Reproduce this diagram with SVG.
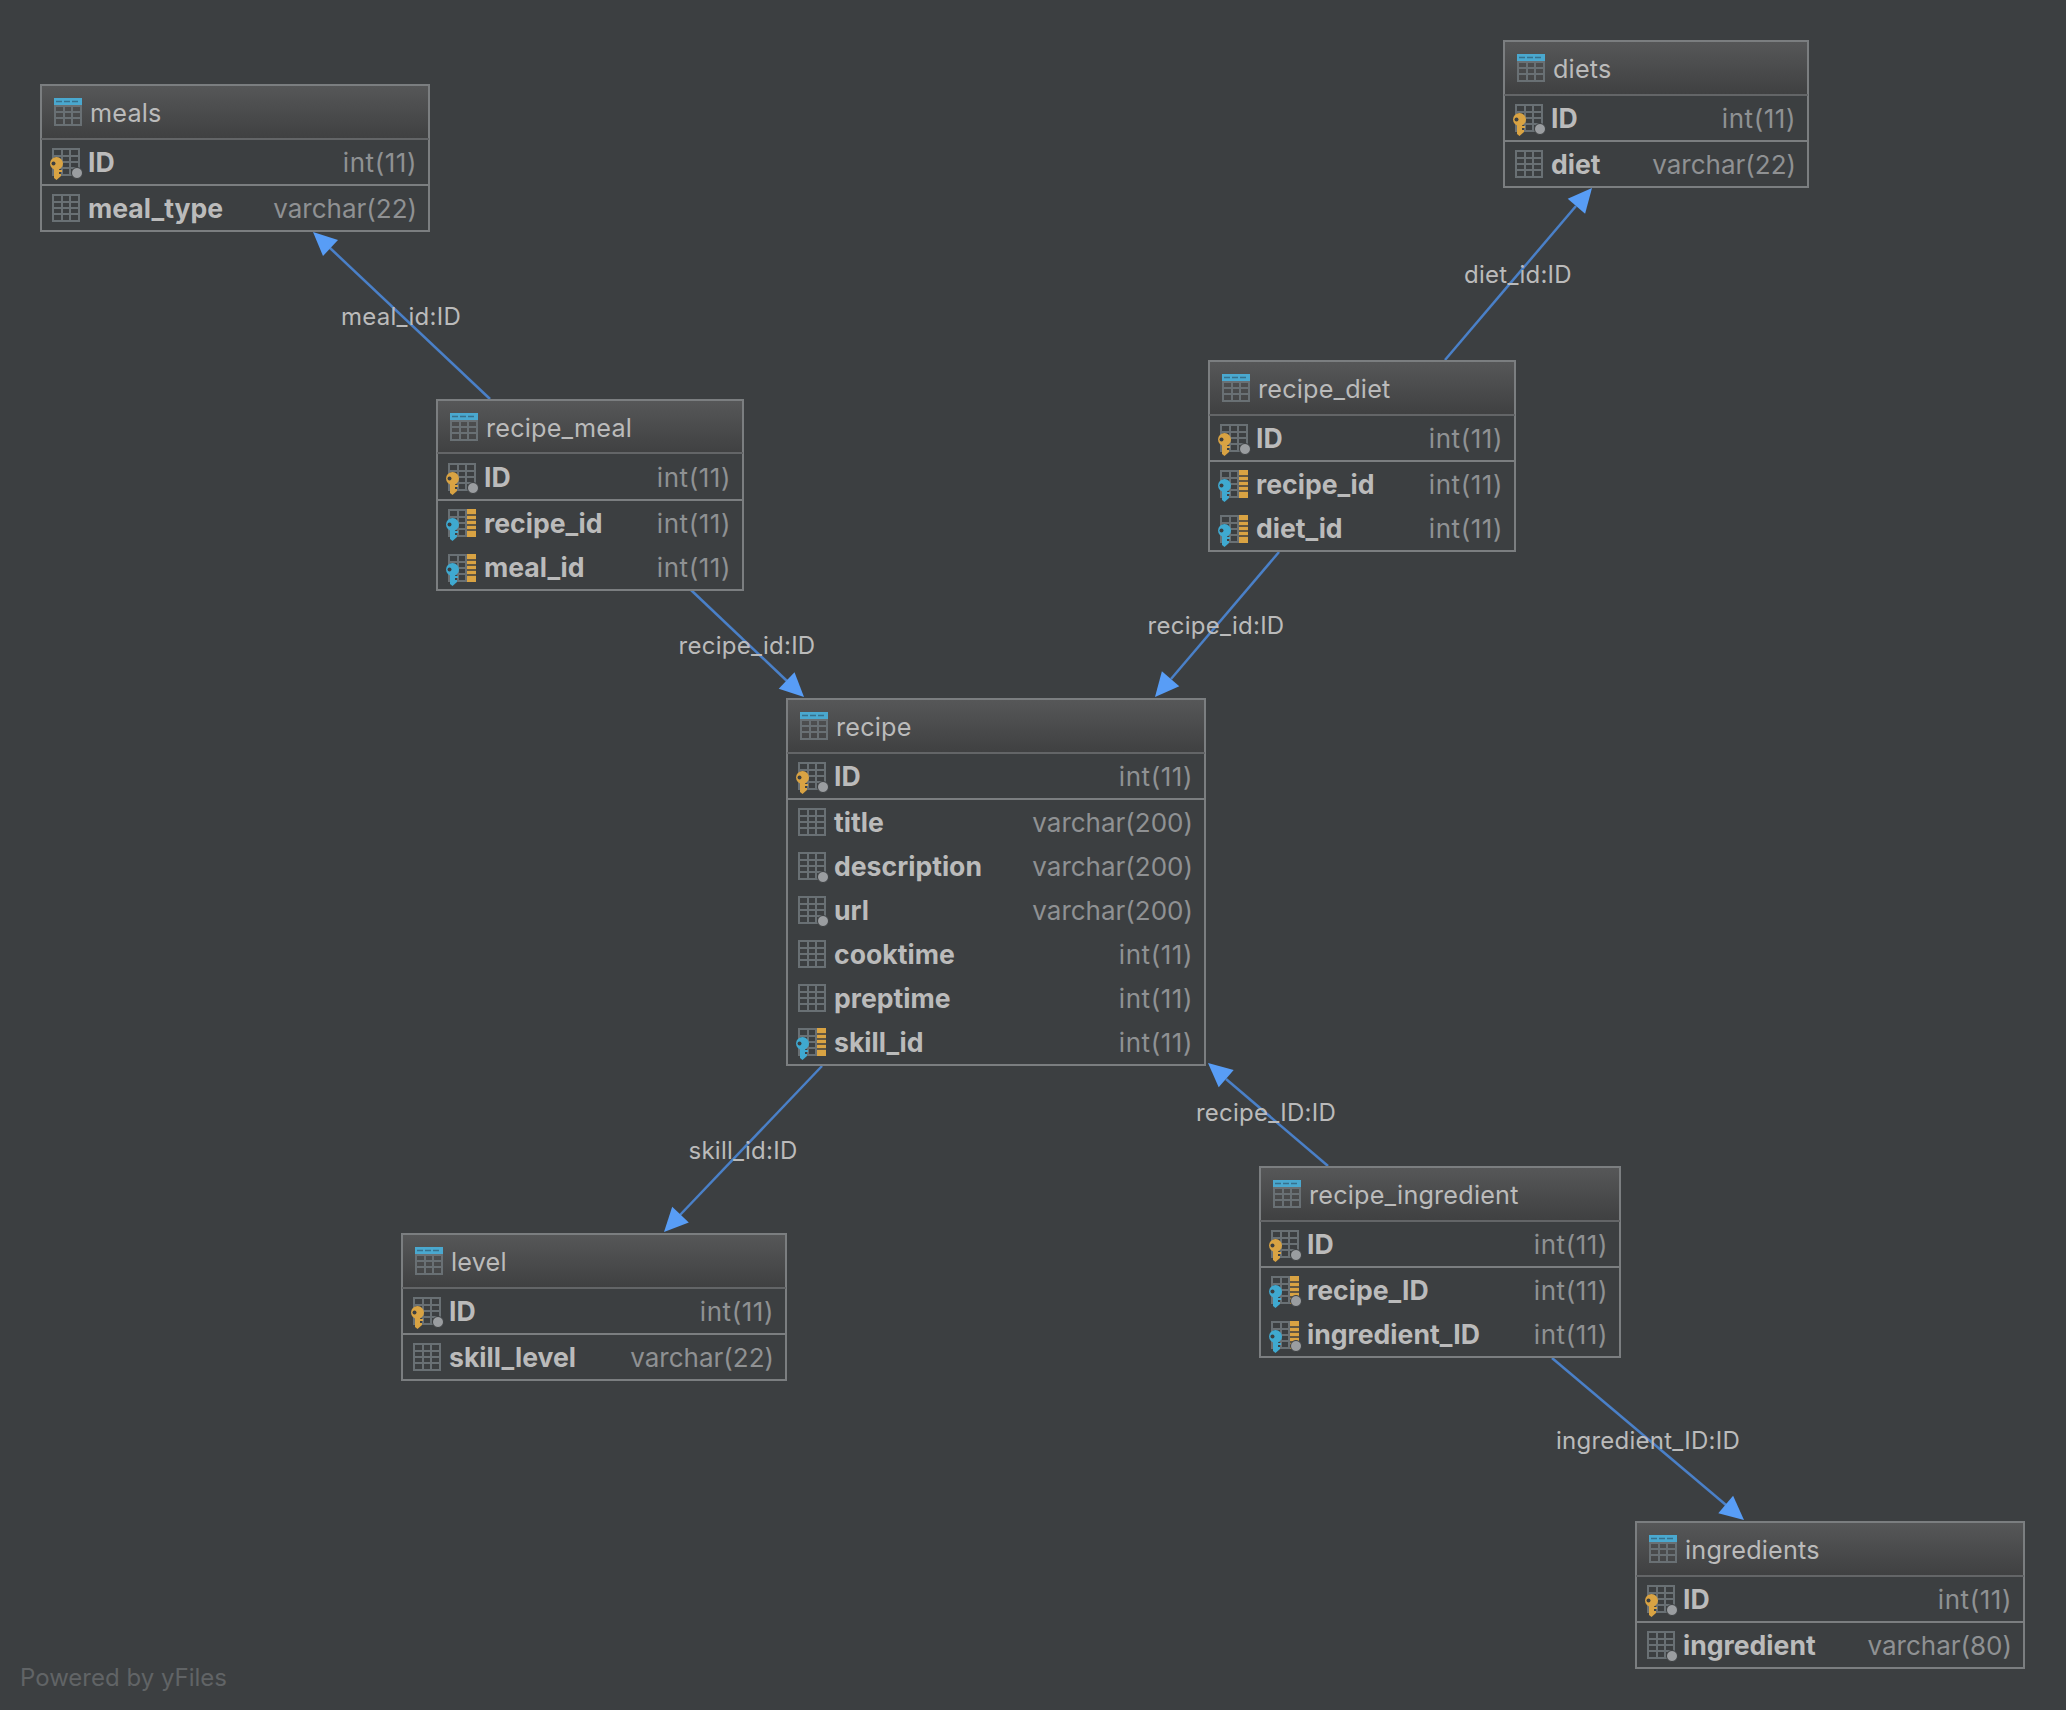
<svg xmlns="http://www.w3.org/2000/svg" width="2066" height="1710" viewBox="0 0 2066 1710">
<style>
text{font-family:"Inter","Liberation Sans",sans-serif}
.box{fill:#3c3f41;stroke:#7b7e80;stroke-width:2}
.head{fill:url(#hg)}
.div{stroke:#7b7e80;stroke-width:2}
.hdiv{stroke:#636567;stroke-width:2}
.t{font-size:25.2px;fill:#bbbbbb;letter-spacing:.2px}
.n{font-size:26.6px;font-weight:700;fill:#bbbbbb}
.y{font-size:26px;fill:#8f9193;text-anchor:end}
.i{letter-spacing:.55px}
.l{font-size:24px;fill:#bbbbbb;text-anchor:middle;letter-spacing:.25px}
.c{fill:none;stroke:#4a80c8;stroke-width:2.5}
.a{fill:#589df6}
.g{fill:none;stroke:#697074;stroke-width:2}
</style>
<defs>
<linearGradient id="hg" x1="0" y1="0" x2="0" y2="1"><stop offset="0" stop-color="#565758"/><stop offset="1" stop-color="#3f4041"/></linearGradient>
<g id="grid"><path class="g" d="M1 1H27V27H1ZM1 8H27M1 14H27M1 20H27M10 1V27M18 1V27"/></g>
<g id="ihead"><use href="#grid"/><rect x="0" y="0" width="28" height="7" fill="#4aa8cf"/><path d="M2 3.5H26" stroke="#37708c" stroke-width="1.5" stroke-dasharray="6 2"/></g>
<circle id="dot" cx="25" cy="25" r="5.5" fill="#9a9da0" stroke="#3c3f41" stroke-width="1"/>
<g id="key"><circle cx="6.5" cy="6.5" r="6.5"/><path d="M4 10H9V13H12V15H9V17H11V19L6.500 23L4 21Z"/></g>
<g id="ipk"><use href="#grid"/><use href="#dot"/><use href="#key" x="-2" y="9" fill="#d9a343"/><circle cx="1.500" cy="15.500" r="2" fill="#3c3f41"/></g>
<g id="ifk"><use href="#grid"/><rect x="19" y="0" width="9" height="28" fill="#d9a343"/><path d="M19 6H28M19 11H28M19 16H28M19 21H28" stroke="#3c3f41" stroke-width="1.500"/><use href="#key" x="-2" y="9" fill="#3fa9d0"/><circle cx="1.500" cy="15.500" r="2" fill="#3c3f41"/></g>
<g id="ifkn"><use href="#ifk"/><use href="#dot"/></g>
<g id="inull"><use href="#grid"/><use href="#dot"/></g>
</defs>
<rect width="2066" height="1710" fill="#3c3f41"/>
<g id="connectors">
<path class="c" d="M490 399L330 248"/><path class="a" d="M313 232L338 240 323 256Z"/>
<path class="c" d="M691 590L787 681"/><path class="a" d="M804 697L794.500 672.200 778.700 688.800Z"/>
<path class="c" d="M1279 552L1171 679"/><path class="a" d="M1155 697L1179.300 686.300 1161.900 671.300Z"/>
<path class="c" d="M1445 360L1576 206"/><path class="a" d="M1592 188L1585.100 213.700 1567.700 198.700Z"/>
<path class="c" d="M822 1066L680 1215"/><path class="a" d="M664 1232L688.800 1222.500 672.200 1206.700Z"/>
<path class="c" d="M1328 1166L1226 1079"/><path class="a" d="M1208 1063L1233.700 1069.900 1218.700 1087.300Z"/>
<path class="c" d="M1552 1358L1726 1505"/><path class="a" d="M1744 1520L1733.100 1495.700 1718.300 1513.300Z"/>
<text class="l" x="401" y="325">meal_id:ID</text>
<text class="l" x="747" y="654">recipe_id:ID</text>
<text class="l" x="1216" y="634">recipe_id:ID</text>
<text class="l" x="1518" y="283">diet_id:ID</text>
<text class="l" x="743" y="1159">skill_id:ID</text>
<text class="l" x="1266" y="1121">recipe_ID:ID</text>
<text class="l" x="1648" y="1449">ingredient_ID:ID</text>
</g>
<g id="meals" transform="translate(41 85)">
<rect class="box" width="388" height="146"/><rect class="head" x="1" y="1" width="386" height="53"/><path class="hdiv" d="M0 54H388"/><path class="div" d="M0 100H388"/>
<use href="#ihead" x="13" y="13"/><text class="t" x="49" y="37">meals</text>
<use href="#ipk" x="11" y="63"/><text class="n" x="47" y="87">ID</text><text class="y i" x="376" y="87">int(11)</text>
<use href="#grid" x="11" y="109"/><text class="n" x="47" y="133">meal_type</text><text class="y" x="376" y="133">varchar(22)</text>
</g>
<g id="recipe_meal" transform="translate(437 400)">
<rect class="box" width="306" height="190"/><rect class="head" x="1" y="1" width="304" height="53"/><path class="hdiv" d="M0 53H306"/><path class="div" d="M0 100H306"/>
<use href="#ihead" x="13" y="13"/><text class="t" x="49" y="37">recipe_meal</text>
<use href="#ipk" x="11" y="63"/><text class="n" x="47" y="87">ID</text><text class="y i" x="294" y="87">int(11)</text>
<use href="#ifk" x="11" y="109"/><text class="n" x="47" y="133">recipe_id</text><text class="y i" x="294" y="133">int(11)</text>
<use href="#ifk" x="11" y="154"/><text class="n" x="47" y="177">meal_id</text><text class="y i" x="294" y="177">int(11)</text>
</g>
<g id="diets" transform="translate(1504 41)">
<rect class="box" width="304" height="146"/><rect class="head" x="1" y="1" width="302" height="53"/><path class="hdiv" d="M0 54H304"/><path class="div" d="M0 100H304"/>
<use href="#ihead" x="13" y="13"/><text class="t" x="49" y="37">diets</text>
<use href="#ipk" x="11" y="63"/><text class="n" x="47" y="87">ID</text><text class="y i" x="292" y="87">int(11)</text>
<use href="#grid" x="11" y="109"/><text class="n" x="47" y="133">diet</text><text class="y" x="292" y="133">varchar(22)</text>
</g>
<g id="recipe_diet" transform="translate(1209 361)">
<rect class="box" width="306" height="190"/><rect class="head" x="1" y="1" width="304" height="53"/><path class="hdiv" d="M0 54H306"/><path class="div" d="M0 100H306"/>
<use href="#ihead" x="13" y="13"/><text class="t" x="49" y="37">recipe_diet</text>
<use href="#ipk" x="11" y="63"/><text class="n" x="47" y="87">ID</text><text class="y i" x="294" y="87">int(11)</text>
<use href="#ifk" x="11" y="109"/><text class="n" x="47" y="133">recipe_id</text><text class="y i" x="294" y="133">int(11)</text>
<use href="#ifk" x="11" y="154"/><text class="n" x="47" y="177">diet_id</text><text class="y i" x="294" y="177">int(11)</text>
</g>
<g id="recipe" transform="translate(787 699)">
<rect class="box" width="418" height="366"/><rect class="head" x="1" y="1" width="416" height="53"/><path class="hdiv" d="M0 54H418"/><path class="div" d="M0 100H418"/>
<use href="#ihead" x="13" y="13"/><text class="t" x="49" y="37">recipe</text>
<use href="#ipk" x="11" y="63"/><text class="n" x="47" y="87">ID</text><text class="y i" x="406" y="87">int(11)</text>
<use href="#grid" x="11" y="109"/><text class="n" x="47" y="133">title</text><text class="y" x="406" y="133">varchar(200)</text>
<use href="#inull" x="11" y="153"/><text class="n" x="47" y="177">description</text><text class="y" x="406" y="177">varchar(200)</text>
<use href="#inull" x="11" y="197"/><text class="n" x="47" y="221">url</text><text class="y" x="406" y="221">varchar(200)</text>
<use href="#grid" x="11" y="241"/><text class="n" x="47" y="265">cooktime</text><text class="y i" x="406" y="265">int(11)</text>
<use href="#grid" x="11" y="285"/><text class="n" x="47" y="309">preptime</text><text class="y i" x="406" y="309">int(11)</text>
<use href="#ifk" x="11" y="329"/><text class="n" x="47" y="353">skill_id</text><text class="y i" x="406" y="353">int(11)</text>
</g>
<g id="level" transform="translate(402 1234)">
<rect class="box" width="384" height="146"/><rect class="head" x="1" y="1" width="382" height="53"/><path class="hdiv" d="M0 54H384"/><path class="div" d="M0 100H384"/>
<use href="#ihead" x="13" y="13"/><text class="t" x="49" y="37">level</text>
<use href="#ipk" x="11" y="63"/><text class="n" x="47" y="87">ID</text><text class="y i" x="372" y="87">int(11)</text>
<use href="#grid" x="11" y="109"/><text class="n" x="47" y="133">skill_level</text><text class="y" x="372" y="133">varchar(22)</text>
</g>
<g id="recipe_ingredient" transform="translate(1260 1167)">
<rect class="box" width="360" height="190"/><rect class="head" x="1" y="1" width="358" height="53"/><path class="hdiv" d="M0 54H360"/><path class="div" d="M0 100H360"/>
<use href="#ihead" x="13" y="13"/><text class="t" x="49" y="37">recipe_ingredient</text>
<use href="#ipk" x="11" y="63"/><text class="n" x="47" y="87">ID</text><text class="y i" x="348" y="87">int(11)</text>
<use href="#ifkn" x="11" y="109"/><text class="n" x="47" y="133">recipe_ID</text><text class="y i" x="348" y="133">int(11)</text>
<use href="#ifkn" x="11" y="154"/><text class="n" x="47" y="177">ingredient_ID</text><text class="y i" x="348" y="177">int(11)</text>
</g>
<g id="ingredients" transform="translate(1636 1522)">
<rect class="box" width="388" height="146"/><rect class="head" x="1" y="1" width="386" height="53"/><path class="hdiv" d="M0 54H388"/><path class="div" d="M0 100H388"/>
<use href="#ihead" x="13" y="13"/><text class="t" x="49" y="37">ingredients</text>
<use href="#ipk" x="11" y="63"/><text class="n" x="47" y="87">ID</text><text class="y i" x="376" y="87">int(11)</text>
<use href="#inull" x="11" y="109"/><text class="n" x="47" y="133">ingredient</text><text class="y" x="376" y="133">varchar(80)</text>
</g>
<text x="20" y="1686" font-size="24" fill="#616466">Powered by yFiles</text>
</svg>
